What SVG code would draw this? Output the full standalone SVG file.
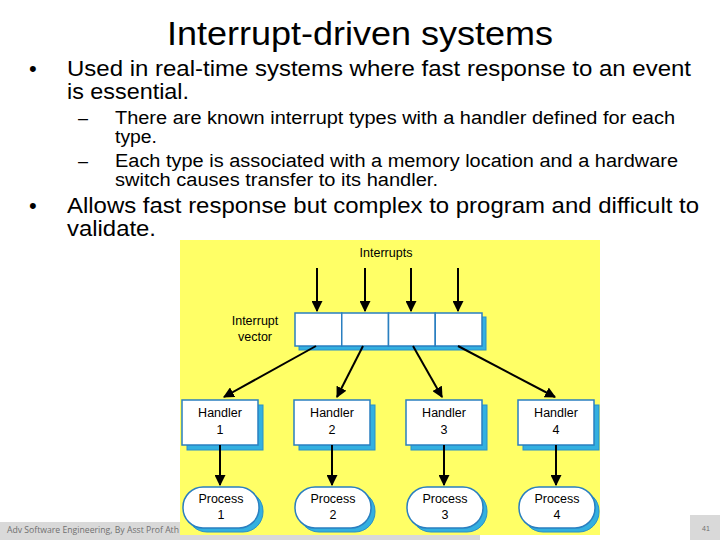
<svg xmlns="http://www.w3.org/2000/svg" width="720" height="540" viewBox="0 0 720 540">
<style>
text{font-family:"Liberation Sans",Arial,sans-serif;fill:#000}
.b1{font-size:22px}
.b2{font-size:18px}
.d{font-size:12.5px;text-anchor:middle}
.box{fill:#fff;stroke:#2a7fc0;stroke-width:1.5}
.sh{fill:#33b0e0;stroke:#2a90c8;stroke-width:1}
.ar{stroke:#000;stroke-width:2;fill:none;marker-end:url(#ah)}
</style>
<defs>
<marker id="ah" viewBox="0 0 10 10" refX="9" refY="5" markerWidth="5.5" markerHeight="5.5" orient="auto" markerUnits="strokeWidth">
<path d="M0,0 L10,5 L0,10 z" fill="#000"/>
</marker>
</defs>
<rect width="720" height="540" fill="#fff"/>
<text x="167" y="45" font-size="34" textLength="386" lengthAdjust="spacingAndGlyphs">Interrupt-driven systems</text>
<g id="bullets">
<text x="29" y="76" class="b1">•</text>
<text x="67" y="76" class="b1" textLength="624" lengthAdjust="spacingAndGlyphs">Used in real-time systems where fast response to an event</text>
<text x="67" y="99" class="b1" textLength="122" lengthAdjust="spacingAndGlyphs">is essential.</text>
<text x="78" y="124" class="b2">–</text>
<text x="115" y="124" class="b2" textLength="560" lengthAdjust="spacingAndGlyphs">There are known interrupt types with a handler defined for each</text>
<text x="115" y="143" class="b2" textLength="42" lengthAdjust="spacingAndGlyphs">type.</text>
<text x="78" y="167" class="b2">–</text>
<text x="115" y="167" class="b2" textLength="563" lengthAdjust="spacingAndGlyphs">Each type is associated with a memory location and a hardware</text>
<text x="115" y="186" class="b2" textLength="323" lengthAdjust="spacingAndGlyphs">switch causes transfer to its handler.</text>
<text x="29" y="213" class="b1">•</text>
<text x="67" y="213" class="b1" textLength="632" lengthAdjust="spacingAndGlyphs">Allows fast response but complex to program and difficult to</text>
<text x="67" y="236" class="b1" textLength="89" lengthAdjust="spacingAndGlyphs">validate.</text>
</g>
<g id="footer">
<rect x="0" y="522" width="480" height="18" fill="#d9d9d9"/>
<text x="7" y="533" font-size="9.5" style="font-family:'Open Sans','Liberation Sans',sans-serif;fill:#707070" textLength="172" lengthAdjust="spacingAndGlyphs">Adv Software Engineering, By Asst Prof Ath</text>
<rect x="690" y="515" width="30" height="25" fill="#d9d9d9"/>
<text x="706" y="531" font-size="7" text-anchor="middle" style="fill:#707070">41</text>
</g>
<rect x="180" y="240" width="420" height="295" fill="#ffff66"/>
<text x="386" y="257" class="d">Interrupts</text>
<text x="255" y="325" class="d">Interrupt</text>
<text x="255" y="341" class="d">vector</text>
<g id="vector">
<rect x="299" y="317" width="187" height="33" class="sh"/>
<rect x="295" y="313" width="46.75" height="33" class="box"/>
<rect x="341.75" y="313" width="46.75" height="33" class="box"/>
<rect x="388.5" y="313" width="46.75" height="33" class="box"/>
<rect x="435.25" y="313" width="46.75" height="33" class="box"/>
</g>
<g id="handler1"><rect x="187" y="405" width="76" height="45" class="sh"/><rect x="182" y="400" width="76" height="45" class="box"/><text x="220" y="417" class="d">Handler</text><text x="220" y="434" class="d">1</text></g>
<g id="handler2"><rect x="299" y="405" width="76" height="45" class="sh"/><rect x="294" y="400" width="76" height="45" class="box"/><text x="332" y="417" class="d">Handler</text><text x="332" y="434" class="d">2</text></g>
<g id="handler3"><rect x="411" y="405" width="76" height="45" class="sh"/><rect x="406" y="400" width="76" height="45" class="box"/><text x="444" y="417" class="d">Handler</text><text x="444" y="434" class="d">3</text></g>
<g id="handler4"><rect x="523" y="405" width="76" height="45" class="sh"/><rect x="518" y="400" width="76" height="45" class="box"/><text x="556" y="417" class="d">Handler</text><text x="556" y="434" class="d">4</text></g>
<g id="process1"><rect x="187" y="491" width="76" height="41" rx="20" class="sh"/><rect x="183" y="487" width="76" height="41" rx="20" class="box"/><text x="221" y="503" class="d">Process</text><text x="221" y="519" class="d">1</text></g>
<g id="process2"><rect x="299" y="491" width="76" height="41" rx="20" class="sh"/><rect x="295" y="487" width="76" height="41" rx="20" class="box"/><text x="333" y="503" class="d">Process</text><text x="333" y="519" class="d">2</text></g>
<g id="process3"><rect x="411" y="491" width="76" height="41" rx="20" class="sh"/><rect x="407" y="487" width="76" height="41" rx="20" class="box"/><text x="445" y="503" class="d">Process</text><text x="445" y="519" class="d">3</text></g>
<g id="process4"><rect x="523" y="491" width="76" height="41" rx="20" class="sh"/><rect x="519" y="487" width="76" height="41" rx="20" class="box"/><text x="557" y="503" class="d">Process</text><text x="557" y="519" class="d">4</text></g>
<g id="connectors">
<line x1="317" y1="268" x2="317" y2="311" class="ar"/>
<line x1="365" y1="268" x2="365" y2="311" class="ar"/>
<line x1="411" y1="268" x2="411" y2="311" class="ar"/>
<line x1="458" y1="268" x2="458" y2="311" class="ar"/>
<line x1="316" y1="346" x2="224" y2="397" class="ar"/>
<line x1="363" y1="346" x2="337" y2="397" class="ar"/>
<line x1="413" y1="346" x2="442" y2="397" class="ar"/>
<line x1="458" y1="346" x2="555" y2="397" class="ar"/>
<line x1="220" y1="445" x2="220" y2="485" class="ar"/>
<line x1="332" y1="445" x2="332" y2="485" class="ar"/>
<line x1="444" y1="445" x2="444" y2="485" class="ar"/>
<line x1="556" y1="445" x2="556" y2="485" class="ar"/>
</g>
</svg>
